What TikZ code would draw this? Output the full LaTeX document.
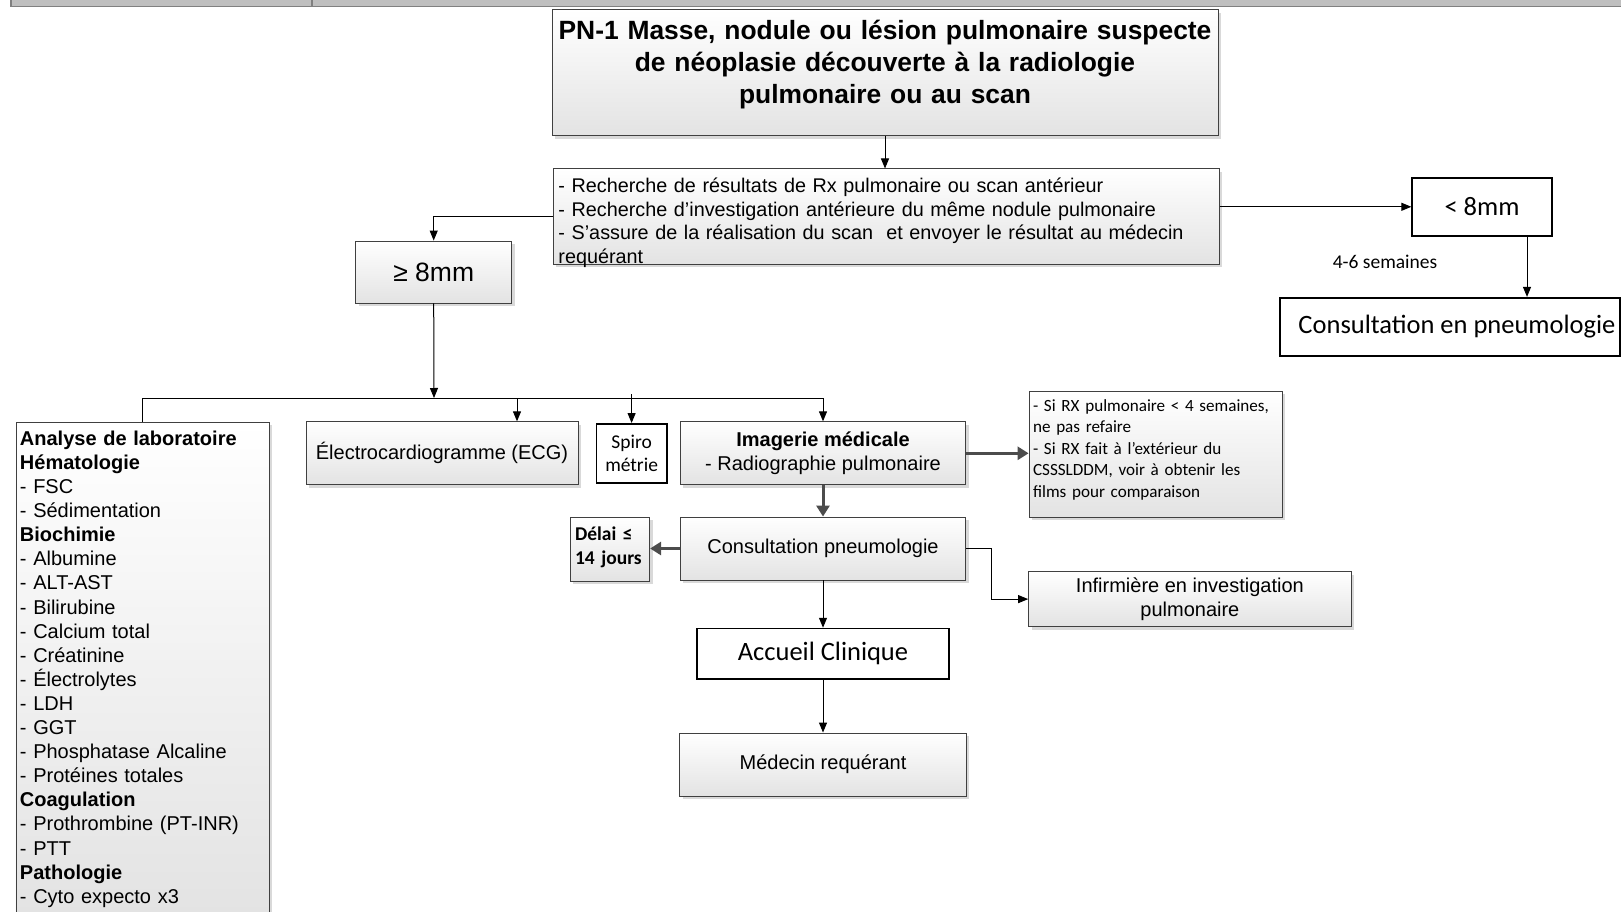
\documentclass[tikz,border=0pt]{standalone}
\usepackage{fontspec}
\setmainfont{Liberation Sans}
\newfontfamily\carl{Carlito}
\usetikzlibrary{arrows.meta,shadows,calc}
\tikzset{
 gbox/.style={draw=black!75, line width=0.9pt, top color=white, bottom color=black!11,
   drop shadow={shadow xshift=3pt, shadow yshift=-3pt, fill=black!25, opacity=0.6},
   inner sep=0pt, font=\fontsize{20}{23.8}\selectfont},
 wbox/.style={draw=black, line width=1.6pt, fill=white, inner sep=0pt},
 arr/.style={draw=black, line width=1pt, -{Triangle[length=10pt,width=8pt]}},
 tarr/.style={draw=black!70, line width=3pt, -{Triangle[length=11pt,width=13pt]}},
 ln/.style={draw=black, line width=1pt},
}
\begin{document}
\begin{tikzpicture}[x=1pt,y=-1pt]
\useasboundingbox (0,0) rectangle (1621,912);
% top strip (cut table)
\fill[black!25] (11,0) rectangle (1621,6);
\draw[black!50, line width=1.5pt] (11,6.5) -- (1621,6.5);
\draw[black!50, line width=1.2pt] (11,0) -- (11,7);
\draw[black!50, line width=1.2pt] (312,0) -- (312,6);

\node[gbox, text width=720pt, align=center, anchor=north, inner xsep=-27pt, inner ysep=10pt,
  text height=19.5pt, text depth=86.6pt, font=\bfseries\fontsize{26.4}{32}\selectfont] (title) at (885,9.3)
  {\mbox{PN-1 Masse, nodule ou lésion pulmonaire suspecte}\\\mbox{de néoplasie découverte à la radiologie}\\\mbox{pulmonaire ou au scan}};

\node[gbox, text width=656pt, align=left, anchor=north west, inner xsep=5pt, inner ysep=9pt,
  text height=14.5pt, text depth=62.6pt, font=\fontsize{19.8}{23.7}\selectfont] (rech) at (553,168.5)
  {\mbox{- Recherche de résultats de Rx pulmonaire ou scan antérieur}\\
   \mbox{- Recherche d’investigation antérieure du même nodule pulmonaire}\\
   \mbox{- S’assure de la réalisation du scan\ \ et envoyer le résultat au médecin}\\
   requérant};

\node[gbox, minimum width=156pt, minimum height=62pt, font=\fontsize{26.5}{30}\selectfont] (ge8) at (433.7,272) {≥ 8mm};
\node[wbox, minimum width=139.7pt, minimum height=58pt, font=\carl\fontsize{26.5}{30}\selectfont] (lt8) at (1482,206.8) {< 8mm};
\node[font=\carl\fontsize{19.5}{23}\selectfont] (sem) at (1385,261.6) {4-6 semaines};
\node[wbox, minimum width=340pt, minimum height=58pt, font=\carl\fontsize{26.5}{30}\selectfont] (cpn) at (1450,326.7) {\hspace*{14pt}Consultation en pneumologie};

\node[gbox, text width=245.3pt, align=left, anchor=north west, inner xsep=4pt, inner ysep=8.5pt,
  text height=14.6pt, font=\fontsize{20}{24.1}\selectfont] (lab) at (15.5,421.8)
  {\textbf{Analyse de laboratoire}\\
   \textbf{Hématologie}\\
   - FSC\\
   - Sédimentation\\
   \textbf{Biochimie}\\
   - Albumine\\
   - ALT-AST\\
   - Bilirubine\\
   - Calcium total\\
   - Créatinine\\
   - Électrolytes\\
   - LDH\\
   - GGT\\
   - Phosphatase Alcaline\\
   - Protéines totales\\
   \textbf{Coagulation}\\
   - Prothrombine (PT-INR)\\
   - PTT\\
   \textbf{Pathologie}\\
   - Cyto expecto x3};

\node[gbox, minimum width=272pt, minimum height=63pt] (ecg) at (442,453.3) {Électrocardiogramme (ECG)};
\node[wbox, minimum width=70.3pt, minimum height=58.9pt, align=center, font=\carl\fontsize{19.5}{23.8}\selectfont] (spiro) at (631.6,453.3) {Spiro\\métrie};
\node[gbox, minimum width=285.6pt, minimum height=63pt, align=center] (imag) at (823,453.3) {\textbf{Imagerie médicale}\\- Radiographie pulmonaire};
\node[gbox, text width=245.3pt, align=left, anchor=north west, inner xsep=4pt, inner ysep=7.2pt,
  text height=13pt, text depth=98.7pt, font=\carl\fontsize{17.1}{21.4}\selectfont] (note) at (1028.6,390.8)
  {\mbox{- Si RX pulmonaire < 4 semaines,}\\\mbox{ne pas refaire}\\\mbox{- Si RX fait à l’extérieur du}\\\mbox{CSSSLDDM, voir à obtenir les}\\\mbox{films pour comparaison}};
\node[gbox, minimum width=285.6pt, minimum height=63pt] (cons) at (823,548.5) {Consultation pneumologie};
\node[gbox, text width=69.6pt, align=left, anchor=north west, inner xsep=5pt, inner ysep=9.6pt,
  text height=14pt, text depth=30.9pt, font=\carl\bfseries\fontsize{19.5}{23.8}\selectfont] (delai) at (569.6,516.9) {\mbox{Délai ≤}\\\mbox{14 jours}};
\node[gbox, minimum width=322.6pt, minimum height=54.8pt, align=center] (inf) at (1189.9,599.1) {Infirmière en investigation\\pulmonaire};
\node[wbox, minimum width=252.2pt, minimum height=50.7pt, font=\carl\fontsize{26.5}{30}\selectfont] (acc) at (823,653.9) {Accueil Clinique};
\node[gbox, minimum width=286.3pt, minimum height=63pt] (med) at (823,764.5) {Médecin requérant};

% connectors
\draw[arr] (title.south) -- (title.south |- rech.north);
\draw[arr] (rech.west) -| (ge8.north);
\draw[arr] (rech.east |- lt8.west) -- (lt8.west);
\coordinate (lt8d) at ($(lt8.south)+(45,0)$);
\draw[arr] (lt8d) -- (lt8d |- cpn.north);

\coordinate (bus) at (434,398);
\draw[arr] (ge8.south) -- (bus);
\draw[ln] (lab.north) |- (bus -| imag.north);
\draw[arr] (bus -| imag.north) -- (imag.north);
\coordinate (ecgt) at ($(ecg.north)+(75,0)$);
\draw[arr] (bus -| ecgt) -- (ecgt);
\coordinate (spt) at ($(bus -| spiro.north)+(0,-4)$);
\draw[arr] (spt) -- (spiro.north);

\draw[tarr] (imag.east) -- (imag.east -| note.west);
\draw[tarr] (imag.south) -- (cons.north);
\draw[tarr] (cons.west) -- (cons.west -| delai.east);
\draw[arr] (cons.east) -- ++(24.8,0) |- (inf.west);
\draw[arr] (cons.south) -- (acc.north);
\draw[arr] (acc.south) -- (med.north);
\end{tikzpicture}
\end{document}
